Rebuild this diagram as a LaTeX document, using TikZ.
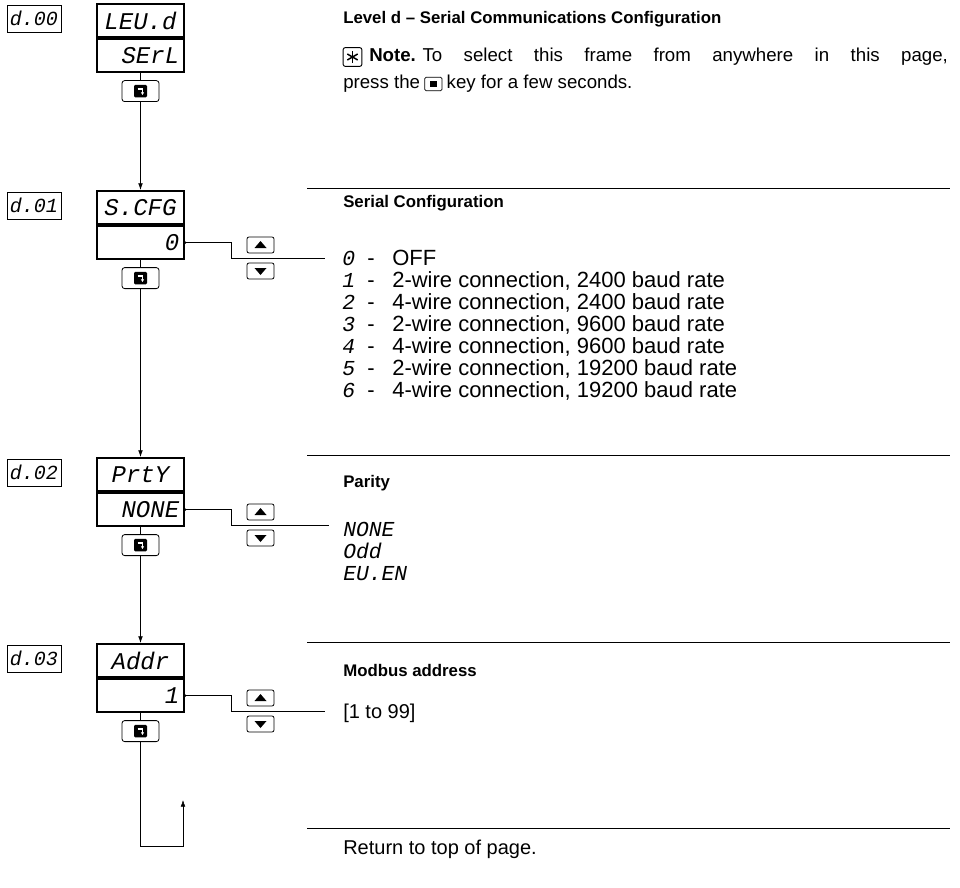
\documentclass[tikz,border=0pt]{standalone}
\usepackage{fontspec}
\setmainfont{Liberation Sans}
\newfontfamily\segfont{Liberation Mono}
\usetikzlibrary{arrows.meta,positioning,calc}

\begin{document}
\begin{tikzpicture}[x=0.75pt,y=-0.75pt,
  >={Latex[length=5pt,width=3.5pt]},
  lbl/.style={draw,line width=0.7pt,minimum width=40.5pt,minimum height=20.25pt,inner sep=0pt,font=\segfont\itshape\fontsize{15}{15}\selectfont},
  disp/.style={draw,line width=1.6pt,minimum width=65.25pt,minimum height=24.75pt,inner sep=2pt,font=\segfont\itshape\fontsize{18}{18}\selectfont},
  dval/.style={disp,align=right,text width=58pt},
  enter/.style={draw,line width=0.6pt,rounded corners=2pt,minimum width=27.75pt,minimum height=15.75pt,inner sep=0pt},
  icon/.style={fill,rounded corners=1pt,minimum width=9.75pt,minimum height=9.5pt,inner sep=0pt},
  arrkey/.style={draw,line width=0.6pt,rounded corners=1.5pt,minimum width=20.25pt,minimum height=12pt,inner sep=0pt},
  head/.style={anchor=west,inner sep=0pt,font=\bfseries\fontsize{12.6}{15}\selectfont},
  note/.style={anchor=west,inner sep=0pt,font=\fontsize{14}{17}\selectfont},
  body/.style={anchor=west,inner sep=0pt,font=\fontsize{15}{18}\selectfont},
  item/.style={anchor=base west,inner sep=0pt,font=\fontsize{16.5}{20}\selectfont},
  opt/.style={anchor=base west,inner sep=0pt,font=\segfont\itshape\fontsize{16}{16}\selectfont},
  sep/.style={line width=0.7pt}
]
\useasboundingbox (0,0) rectangle (960,888);

% parameter codes
\node[lbl] (d0) at (34,18.5) {d.00};
\node[lbl] (d1) at (34,205.5) {d.01};
\node[lbl] (d2) at (34,472.5) {d.02};
\node[lbl] (d3) at (34,658.5) {d.03};

% displays
\node[disp] (p0) at (140.5,20.5) {LEU.d};
\node[dval,below=0pt of p0] (v0) {SErL};
\node[disp] (p1) at (140.5,207.5) {S.CFG};
\node[dval,below=0pt of p1] (v1) {0};
\node[disp] (p2) at (140.5,474.5) {PrtY};
\node[dval,below=0pt of p2] (v2) {NONE};
\node[disp] (p3) at (140.5,660.5) {Addr};
\node[dval,below=0pt of p3] (v3) {1};

% enter keys
\node[enter,below=5.25pt of v0] (k0) {};
\node[enter,below=5.25pt of v1] (k1) {};
\node[enter,below=5.25pt of v2] (k2) {};
\node[enter,below=5.25pt of v3] (k3) {};
\foreach \k in {k0,k1,k2,k3} {
  \node[icon] (i\k) at (\k) {};
  \draw[white,line width=1pt,-{Latex[length=2pt,width=2.5pt]}] ($(\k)+(-3,-2)$) -- ($(\k)+(2,-2)$) -- ($(\k)+(2,4)$);
}

% up / down keys
\node[arrkey] (u1) at (260.5,245) {};
\node[arrkey] (n1) at (260.5,271) {};
\node[arrkey] (u2) at (260.5,512) {};
\node[arrkey] (n2) at (260.5,538) {};
\node[arrkey] (u3) at (260.5,698) {};
\node[arrkey] (n3) at (260.5,724) {};
\foreach \u in {u1,u2,u3}
  \fill ($(\u)+(-6,3)$) -- ($(\u)+(6,3)$) -- ($(\u)+(0,-4)$) -- cycle;
\foreach \n in {n1,n2,n3}
  \fill ($(\n)+(-6,-3)$) -- ($(\n)+(6,-3)$) -- ($(\n)+(0,4)$) -- cycle;

% flow
\draw (v0) -- (k0);
\draw (v1) -- (k1);
\draw (v2) -- (k2);
\draw (v3) -- (k3);
\draw[->] (k0) -- (p1);
\draw[->] (k1) -- (p2);
\draw[->] (k2) -- (p3);
\coordinate (ret) at (183,846);
\coordinate (rettip) at (183,800);
\draw[->] (k3.south) |- (ret) -- (rettip);

% value connectors
\coordinate (j1) at (231,258);
\coordinate (e1) at (325,258);
\coordinate (j2) at (231,525);
\coordinate (e2) at (329,525);
\coordinate (j3) at (231,711);
\coordinate (e3) at (325,711);
\draw (v1.east) -| (j1) -- (e1);
\draw (v2.east) -| (j2) -- (e2);
\draw (v3.east) -| (j3) -- (e3);
\fill (v1.east) circle (1pt);
\fill (v2.east) circle (1pt);
\fill (v3.east) circle (1pt);

% right column
\node[head] (title) at (343,19) {Level d \textendash{} Serial Communications Configuration};
\node[draw,rounded corners=1.5pt,line width=0.7pt,minimum size=14pt,inner sep=0pt] (star) at (352.5,57) {};
\foreach \a in {90,30,150}
  \draw[line width=1.1pt] ($(star)+(\a:6)$) -- ($(star)+(\a+180:6)$);
\node[note] (notetxt) at (369,57) {\makebox[434pt][s]{\textbf{Note.}\hspace{5pt}To select this frame from anywhere in this page,}};
\node[note] (press) at (343,84) {press the};
\node[draw,rounded corners=1pt,line width=0.6pt,minimum width=13pt,minimum height=10pt,inner sep=0pt,right=3pt of press] (pkey) {};
\node[fill,minimum size=5pt,inner sep=0pt] (pkeyi) at (pkey) {};
\node[note,right=3pt of pkey] (rest) {key for a few seconds.};

\draw[sep] (307,188) -- (950,188);
\node[head] (h1) at (343,203) {Serial Configuration};
\foreach \n/\t [count=\i from 0] in {0/OFF,1/{2-wire connection, 2400 baud rate},2/{4-wire connection, 2400 baud rate},3/{2-wire connection, 9600 baud rate},4/{4-wire connection, 9600 baud rate},5/{2-wire connection, 19200 baud rate},6/{4-wire connection, 19200 baud rate}} {
  \node[opt] (c\i) at (342,265+22*\i) {\n};
  \node[item] (m\i) at (367,265+22*\i) {-};
  \node[item] (t\i) at (392,265+22*\i) {\t};
}

\draw[sep] (307,455) -- (950,455);
\node[head] (h2) at (343,483) {Parity};
\node[opt] (none) at (343,536) {NONE};
\node[opt] (odd) at (343,558) {Odd};
\node[opt] (even) at (343,580) {EU.EN};

\draw[sep] (307,642) -- (950,642);
\node[head] (h3) at (343,670) {Modbus address};
\node[body] (range) at (343,713) {[1 to 99]};

\draw[sep] (307,828) -- (950,828);
\node[body] (back) at (343,849) {Return to top of page.};
\end{tikzpicture}
\end{document}
